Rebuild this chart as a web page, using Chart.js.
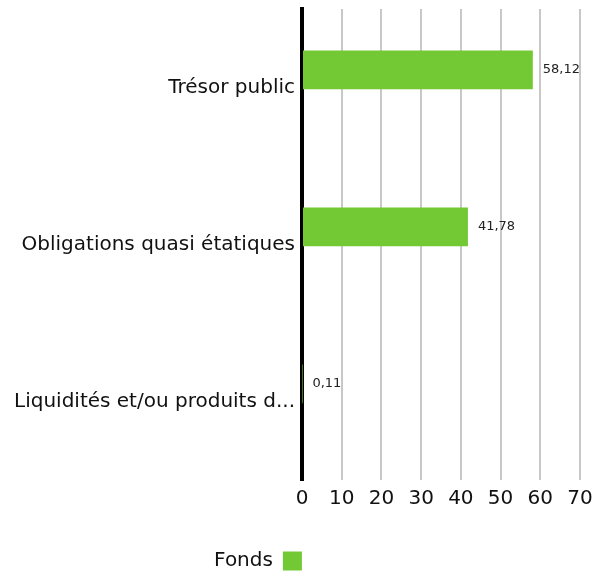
<!DOCTYPE html>
<html lang="fr">
<head>
<meta charset="utf-8">
<title>Fonds</title>
<script src="https://cdn.jsdelivr.net/npm/chart.js@4.4.1/dist/chart.umd.min.js"></script>
<style>
    html, body { margin: 0; padding: 0; background: #fff; }
    #wrap { width: 592px; height: 571px; position: relative; }
</style>
</head>
<body>
<div id="wrap"><canvas id="chart"></canvas></div>
<script>
// data
const categories = ['Trésor public', 'Obligations quasi étatiques', 'Liquidités et/ou produits du marché monétaire'];
const fondsValues = [58.12, 41.78, 0.11];
const emptyValues = [null, null, null]; // second (empty) slot, keeps bars off-centre like the original
const xTicks = [0, 10, 20, 30, 40, 50, 60, 70];

const GREEN = '#73c934';
const fmtFr = v => v.toFixed(2).replace('.', ',');

Chart.defaults.font.family = "'DejaVu Sans', sans-serif";
Chart.defaults.color = '#111';

// value labels to the right of each bar
const barLabels = {
    id: 'barLabels',
    afterDatasetsDraw(chart) {
        const ctx = chart.ctx;
        const meta = chart.getDatasetMeta(0);
        ctx.save();
        ctx.font = "13px 'DejaVu Sans'";
        ctx.fillStyle = '#222';
        ctx.textAlign = 'left';
        ctx.textBaseline = 'middle';
        meta.data.forEach((bar, i) => {
            ctx.fillText(fmtFr(fondsValues[i]), bar.x + 10, bar.y);
        });
        ctx.restore();
    }
};

// legend sits left of centre and a bit lower in the original
const shiftLegend = {
    id: 'shiftLegend',
    afterLayout(chart) {
        const lg = chart.legend;
        lg.left -= 38;
        lg.right -= 38;
        lg.top += 10;
        lg.bottom += 10;
    }
};

new Chart(document.getElementById('chart'), {
    type: 'bar',
    data: {
        labels: categories,
        datasets: [
            {
                label: 'Fonds',
                data: fondsValues,
                backgroundColor: GREEN,
                categoryPercentage: 0.45,
                barPercentage: 1.1
            },
            {
                label: '',
                data: emptyValues,
                backgroundColor: 'transparent',
                categoryPercentage: 0.45,
                barPercentage: 1.1
            }
        ]
    },
    options: {
        indexAxis: 'y',
        responsive: true,
        maintainAspectRatio: false,
        animation: false,
        layout: { padding: { top: 9, left: 0, right: 0, bottom: 0 } },
        plugins: {
            tooltip: { enabled: false },
            legend: {
                position: 'bottom',
                rtl: true,
                labels: {
                    filter: item => item.datasetIndex === 0,
                    font: { size: 20 },
                    color: '#111',
                    boxWidth: 19,
                    boxHeight: 19,
                    padding: 1
                }
            }
        },
        scales: {
            x: {
                min: 0,
                max: 70,
                afterBuildTicks: scale => { scale.ticks = xTicks.map(v => ({ value: v })); },
                afterFit: scale => {
                    scale.height = 60;
                    scale.paddingLeft = 0;
                    scale.paddingRight = 12;
                },
                grid: { color: '#c8c8c8', lineWidth: 2, drawTicks: false },
                border: { display: false },
                ticks: { font: { size: 20 }, padding: 7, color: '#111' }
            },
            y: {
                z: 1,
                afterFit: scale => {
                    scale.width = 302;
                    scale.paddingTop = 0;
                    scale.paddingBottom = 0;
                },
                grid: { display: false, drawTicks: false },
                border: { color: '#000', width: 4 },
                ticks: {
                    font: { size: 20 },
                    padding: 7,
                    color: '#111',
                    callback(value) {
                        const s = this.getLabelForValue(value);
                        return s.length > 27 ? s.slice(0, 27) + '...' : s;
                    }
                }
            }
        }
    },
    plugins: [barLabels, shiftLegend]
});
</script>
</body>
</html>
